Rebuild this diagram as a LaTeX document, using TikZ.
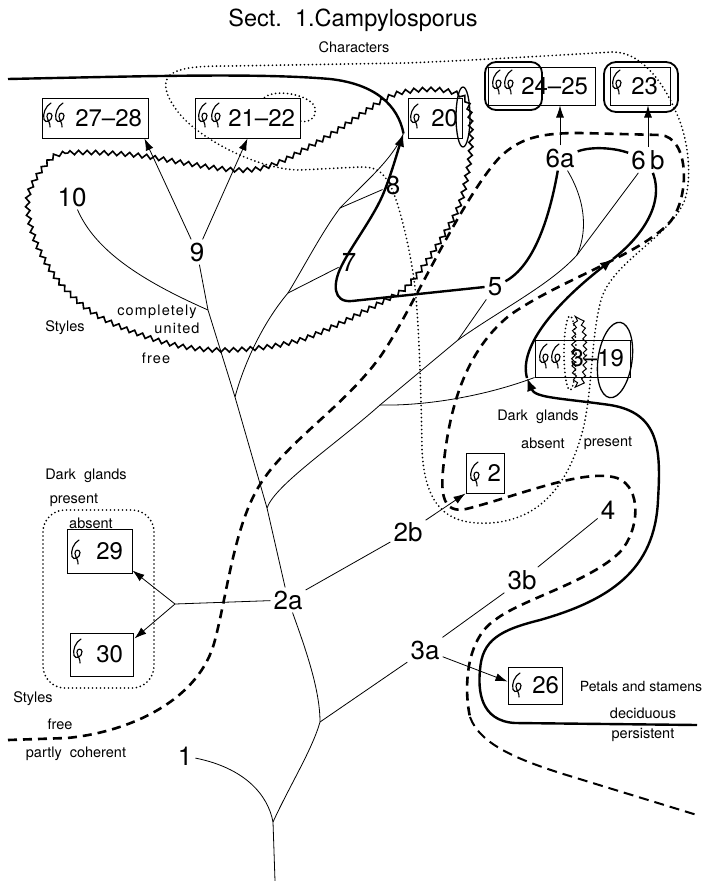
\documentclass[tikz,border=0pt]{standalone}
\usepackage{fontspec}
\setmainfont{TeX Gyre Heros}
\newfontfamily\spcfont[LetterSpace=8]{TeX Gyre Heros}
\usetikzlibrary{arrows.meta,decorations.pathmorphing,calc}
\begin{document}
\begin{tikzpicture}[x=1pt,y=-1pt,
  thinl/.style={line width=0.8pt},
  thickl/.style={line width=2.4pt},
  dashl/.style={line width=2.6pt, dash pattern=on 9pt off 6pt},
  dotl/.style={line width=1.9pt, dash pattern=on 0pt off 4pt, line cap=round},
  zz/.style={line width=1.6pt, decorate, decoration={zigzag, amplitude=2.1pt, segment length=8.5pt}},
  arr/.style={-{Latex[length=12pt,width=8pt]}},
  tarr/.style={-{Latex[length=13pt,width=10pt]}},
  lbl/.style={font=\fontsize{26}{26}\selectfont, inner sep=3pt},
  sm/.style={font=\fontsize{14.5}{14.5}\selectfont, inner sep=0pt},
  bx/.style={draw, line width=1pt, inner ysep=0pt, align=right, font=\fontsize{24}{24}\selectfont},
  hk/.pic={\draw[line width=1.15pt, line cap=round] (3,-12) .. controls (-2.5,-9) and (-5.5,-1) .. (-4,4.5) .. controls (-2.5,9) and (4.5,5.5) .. (4,0.5) .. controls (3.5,-3) and (-1.5,-2.5) .. (-1,1.5) .. controls (-0.5,5) and (2.5,8.5) .. (2,12);}
]
\useasboundingbox (0,0) rectangle (707,881);

% ---------- titles and small texts
\node[font=\fontsize{23.5}{23.5}\selectfont] (title) at (353,20) {Sect.\ \ 1.Campylosporus};
\node[sm] (chars) at (354,47) {Characters};
\node[sm] (sty1) at (65,328) {Styles};
\node[sm] (compl) at (157,312) {\spcfont completely};
\node[sm] (unit) at (177,328) {\spcfont united};
\node[sm] (free1) at (156,358) {\spcfont free};
\node[sm] (dgl) at (86,476) {Dark\ \ glands};
\node[sm] (pres1) at (74,500) {present};
\node[sm] (abs1) at (91,523) {absent};
\node[sm] (sty2) at (33,699) {Styles};
\node[sm] (free2) at (60,724) {free};
\node[sm] (partly) at (76,754) {partly\ \ coherent};
\node[sm] (dgr) at (538,417) {Dark\ \ glands};
\node[sm] (abs2) at (543,443) {absent};
\node[sm] (pres2) at (608,443) {present};
\node[sm, font=\fontsize{14}{14}\selectfont] (petals) at (641,686) {Petals and stamens};
\node[sm] (decid) at (643,713) {deciduous};
\node[sm] (persis) at (643,735) {persistent};

% ---------- boxes
\node[bx, minimum width=106pt, minimum height=40pt, text width=94pt, inner xsep=6pt] (b2728) at (95,118) {27–28};
\node[bx, minimum width=105pt, minimum height=40pt, text width=95pt, inner xsep=5pt] (b2122) at (247.5,118) {21–22};
\node[bx, minimum width=54pt, minimum height=40pt, text width=46pt, inner xsep=4pt] (b20) at (435,118) {20};
\node[bx, minimum width=107pt, minimum height=38pt, text width=93pt, inner xsep=7pt] (b2425) at (541.5,86) {24–25};
\node[bx, minimum width=60pt, minimum height=38pt, text width=36pt, inner xsep=12pt] (b23) at (640,86) {23};
\node[bx, minimum width=95pt, minimum height=37pt, text width=83pt, inner xsep=6pt] (b319) at (582.5,358.5) {3–19};
\node[bx, minimum width=38pt, minimum height=40pt, text width=32pt, inner xsep=3pt] (b2) at (485,473) {2};
\node[bx, minimum width=65pt, minimum height=44pt, text width=47pt, inner xsep=9pt] (b29) at (99.5,551) {29};
\node[bx, minimum width=63pt, minimum height=43pt, text width=43pt, inner xsep=10pt] (b30) at (101.5,654.5) {30};
\node[bx, minimum width=54pt, minimum height=37pt, text width=48pt, inner xsep=3pt] (b26) at (535,685.5) {26};

\pic at (48,115) {hk}; \pic at (60,115) {hk};
\pic at (203,115) {hk}; \pic at (216,115) {hk};
\pic at (415,116) {hk};
\pic at (497,82) {hk}; \pic at (509,82) {hk};
\pic at (617,82) {hk};
\pic at (544,356) {hk}; \pic at (556,356) {hk};
\pic at (475,474) {hk};
\pic at (76,552) {hk};
\pic at (78,651) {hk};
\pic at (517,685) {hk};

% ---------- labels
\node[lbl] (n10) at (72,197) {10};
\node[lbl] (n9) at (197,252) {9};
\node[lbl] (n8) at (393,185) {8};
\node[lbl] (n7) at (349,262) {7};
\node[lbl] (n5) at (495,287) {5};
\node[lbl] (n6a) at (560,158) {6a};
\node[lbl] (n6b) at (648,160) {6\,b};
\node[lbl] (n2a) at (288,600) {2a};
\node[lbl] (n2b) at (408,532) {2b};
\node[lbl] (n3b) at (522,580) {3b};
\node[lbl] (n3a) at (425,650) {3a};
\node[lbl] (n4) at (608,510) {4};
\node[lbl] (n1) at (185,756) {1};

% ---------- tree coordinates
\coordinate (root) at (275,881);
\coordinate (fA) at (273,822);
\coordinate (fB) at (320,722);
\coordinate (fC) at (267,508);
\coordinate (fD) at (380,405);
\coordinate (fE) at (458,340);
\coordinate (fF) at (577,255);
\coordinate (fG) at (235,397);
\coordinate (fH) at (288,293);
\coordinate (fI) at (340,208);
\coordinate (fJ) at (208,310);
\coordinate (f2a) at (175,604);
\coordinate (tip20) at ($(b20.south west)+(-4,-5)$);

% ---------- tree (thin)
\draw[thinl] (root) -- (fA);
\draw[thinl] (fA) .. controls (268,795) and (245,768) .. (n1);
\draw[thinl] (fA) .. controls (290,785) and (312,750) .. (fB);
\draw[thinl] (fB) -- (n3a);
\draw[thinl] (n3a) -- (n3b);
\draw[thinl] (n3b) -- (n4);
\draw[thinl] (fB) .. controls (320,690) and (306,650) .. (n2a);
\draw[thinl] (n2a) -- (fC) -- (fG) -- (fJ) -- (n9);
\draw[thinl] (fC) .. controls (275,485) and (335,445) .. (fD);
\draw[thinl] (fD) .. controls (420,406) and (480,398) .. (b319.south west);
\draw[thinl] (fD) -- (fE);
\draw[thinl] (fE) -- (n5);
\draw[thinl] (fE) .. controls (500,310) and (550,285) .. (fF);
\draw[thinl] (fF) -- (n6b);
\draw[thinl] (n6a) .. controls (588,205) and (586,235) .. (fF);
\draw[thinl] (fJ) .. controls (140,280) and (95,250) .. (n10);
\draw[thinl] (fG) .. controls (245,360) and (265,320) .. (fH);
\draw[thinl] (fH) -- (n7);
\draw[thinl] (fH) .. controls (305,265) and (322,232) .. (fI);
\draw[thinl] (fI) -- (n8);
\draw[thinl] (fI) .. controls (365,182) and (392,160) .. (tip20);

% ---------- thin arrows
\draw[thinl, arr] (n9) -- ($(b2728.south east)+(-4,0)$);
\draw[thinl, arr] (n9) -- (b2122.south);
\draw[thinl, arr] (n6a.north) -- (n6a.north |- b2425.south);
\draw[thinl, arr] (n6b.north) -- (n6b.north |- b23.south);
\draw[thinl] (n2a) -- (f2a);
\draw[thinl, arr] (f2a) -- ($(b29.south east)+(0,-3)$);
\draw[thinl, arr] (f2a) -- ($(b30.north east)+(1,6)$);
\draw[thinl] (n2a) -- (n2b);
\draw[thinl, arr] (n2b) -- (b2.south west);
\draw[thinl, arr] (n3a) -- ($(b26.west)+(0,-4)$);

% ---------- zigzag boundary (styles completely united / free)
\draw[zz] plot[smooth cycle, tension=0.55] coordinates {(47,163) (68,153) (135,155) (248,170) (316,143) (383,100) (410,91) (442,90) (466,100) (471,133) (468,170) (455,215) (413,280) (380,303) (300,340) (227,350) (167,343) (100,317) (60,283) (35,240) (28,197)};

% ---------- dotted boundaries (dark glands)
\draw[dotl] (170,75) .. controls (180,67) and (200,66) .. (230,66) -- (406,63) .. controls (480,60) and (560,55) .. (613,52) .. controls (640,52) and (662,80) .. (675,110) .. controls (690,140) and (692,182) .. (684,202) .. controls (668,238) and (612,262) .. (601,300) .. controls (590,340) and (593,400) .. (580,440) .. controls (566,485) and (540,520) .. (490,523) .. controls (450,525) and (425,510) .. (422,450) .. controls (421,380) and (418,300) .. (413,273) .. controls (408,240) and (398,200) .. (390,185) .. controls (382,170) and (375,167) .. (360,167) -- (300,170) .. controls (260,170) and (200,140) .. (178,112) .. controls (165,95) and (162,82) .. (170,75);
\draw[dotl] ($(b2122.north west)+(70,0)$) .. controls (275,88) and (312,95) .. (315,108) .. controls (317,120) and (306,123) .. ($(b2122.east)+(0,3)$);
\draw[dotl, rounded corners=22pt] (43,510) rectangle (154,688);
\draw[dotl] (570,353) ellipse (6pt and 37pt);

% ---------- extra outlines
\draw[line width=1.3pt] (463,117) ellipse (7pt and 30pt);
\draw[line width=1.3pt, rotate around={-8:(615,360)}] (615,360) ellipse (17pt and 38pt);
\draw[line width=1pt, decorate, decoration={snake, amplitude=1.8pt, segment length=7pt}] (580,355) ellipse (5pt and 36pt);
\draw[line width=1.8pt, rounded corners=11pt] (485,62) rectangle (542,110);
\draw[line width=1.8pt, rounded corners=12pt] (604,62) rectangle (678,112);

% ---------- dashed boundary (styles free / partly coherent)
\coordinate (d0) at (8,740);
\coordinate (d1) at (697,815);
\draw[dashl] (d0) -- (67,738) .. controls (130,732) and (200,700) .. (215,640) .. controls (228,590) and (235,520) .. (263,480) .. controls (290,440) and (345,405) .. (380,357) .. controls (410,315) and (460,200) .. (500,157) .. controls (520,138) and (540,133) .. (580,133) -- (660,135) .. controls (690,137) and (690,198) .. (670,222) .. controls (640,255) and (560,280) .. (510,315) .. controls (460,355) and (448,420) .. (443,470) .. controls (440,500) and (446,515) .. (470,508) .. controls (520,495) and (585,468) .. (617,478) .. controls (642,487) and (640,530) .. (620,552) .. controls (590,582) and (520,600) .. (495,620) .. controls (465,640) and (464,690) .. (470,717);
\draw[line width=2pt, dash pattern=on 10pt off 6pt] (470,717) .. controls (480,745) and (520,760) .. (560,773) -- (d1);

% ---------- thick solid boundary (petals and stamens) with arrows
\coordinate (tl0) at (8,79);
\coordinate (s0) at (697,725);
\coordinate (m2) at (527,378);
\coordinate (m1) at (613,259);
\draw[thickl] (tl0) .. controls (150,76) and (260,73) .. (330,79) .. controls (375,84) and (398,105) .. (tip20);
\draw[thickl, tarr] (n5.west) -- (352,301) .. controls (333,303) and (332,284) .. (342,265) .. controls (352,245) and (375,215) .. (384,192) .. controls (392,172) and (398,150) .. (tip20);
\draw[thickl] (n5) .. controls (535,265) and (550,215) .. (n6a);
\draw[thickl] (n6a) .. controls (592,146) and (615,148) .. (n6b);
\draw[thickl, tarr] (s0) -- (515,723) .. controls (480,721) and (478,690) .. (480,670) .. controls (482,640) and (500,630) .. (540,620) .. controls (610,600) and (655,570) .. (658,500) .. controls (661,450) and (660,413) .. (610,405) .. controls (560,398) and (535,398) .. (m2);
\draw[thickl, tarr] (m2) .. controls (518,345) and (560,300) .. (m1);
\draw[thickl] (m1) .. controls (640,238) and (665,205) .. (n6b);
\end{tikzpicture}
\end{document}
